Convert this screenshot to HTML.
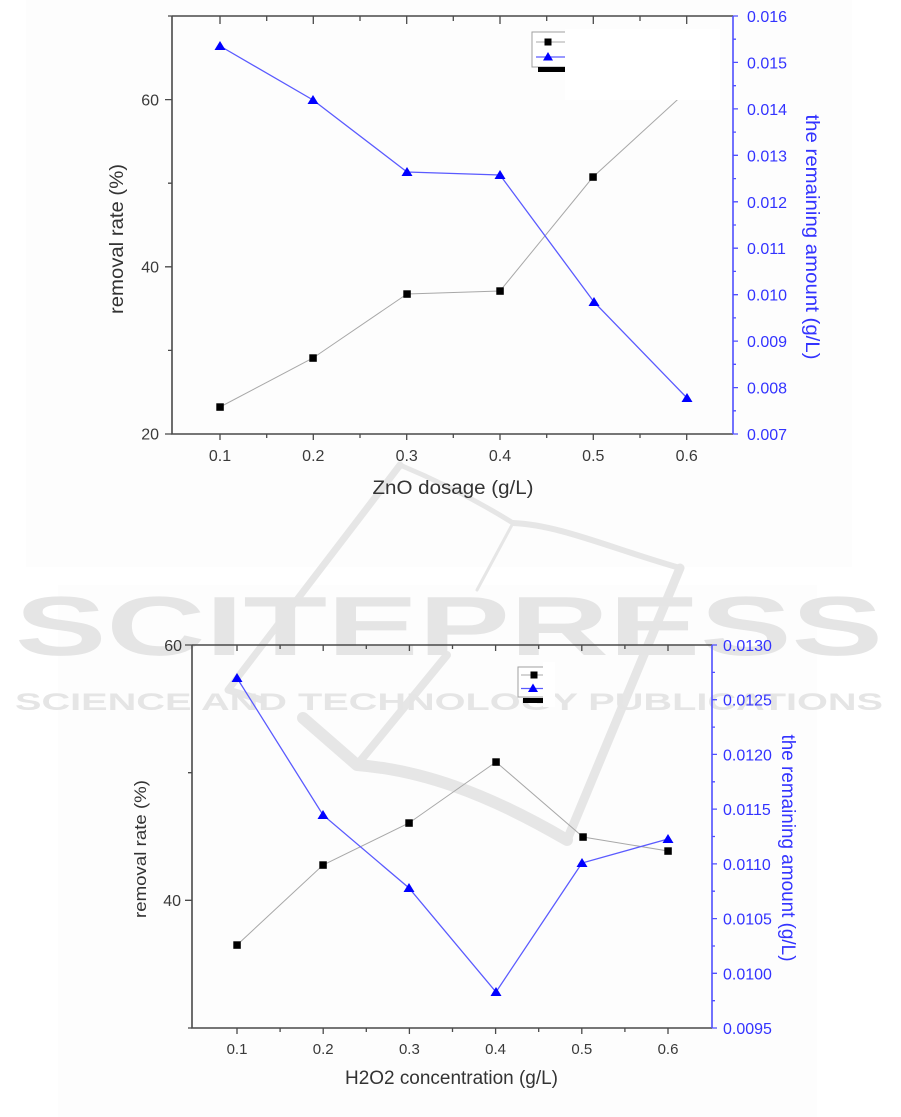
<!DOCTYPE html>
<html>
<head>
<meta charset="utf-8">
<style>
  html, body { margin: 0; padding: 0; background: #ffffff; }
  body { width: 901px; height: 1117px; overflow: hidden; }
  svg { display: block; }
  text { font-family: "Liberation Sans", Arial, sans-serif; }
</style>
</head>
<body>
<svg width="901" height="1117" viewBox="0 0 901 1117" xmlns="http://www.w3.org/2000/svg">
  <!-- page / image backgrounds -->
  <rect x="0" y="0" width="901" height="1117" fill="#ffffff"/>
  <rect x="26" y="0" width="826" height="567" fill="#fdfdfd"/>
  <rect x="58" y="585" width="759" height="532" fill="#fdfdfd"/>

  <!-- watermark logo strokes -->
  <g fill="none" stroke="#e6e6e6" stroke-linecap="round" stroke-linejoin="round">
    <path d="M400 465 L228 690 L262 700" stroke-width="7"/>
    <path d="M400 465 Q460 490 513 523" stroke-width="5"/>
    <path d="M513 523 C560 525 610 548 680 568" stroke-width="6"/>
    <path d="M680 568 L567 840" stroke-width="9"/>
    <path d="M513 523 L477 590" stroke-width="3"/>
    <path d="M447 655 L357 765" stroke-width="8"/>
    <path d="M303 718 L357 765 C420 770 485 792 567 840" stroke-width="12"/>
  </g>

  <!-- watermark text -->
  <text x="15" y="655" font-size="84" font-weight="bold" textLength="868" lengthAdjust="spacingAndGlyphs" fill="#e5e5e5">SCITEPRESS</text>
  <text x="15" y="710" font-size="24" font-weight="bold" textLength="868" lengthAdjust="spacingAndGlyphs" fill="#e5e5e5">SCIENCE AND TECHNOLOGY PUBLICATIONS</text>

  <!-- ===================== TOP CHART ===================== -->
  <polyline points="220,407 313,358 407,294 500,291 593,177 687,91" fill="none" stroke="#a8a8a8" stroke-width="1"/>
  <polyline points="220,46 313,100 407,172 500,175 594,302 687,398" fill="none" stroke="#5a5aff" stroke-width="1.3"/>
  <g fill="#000">
    <rect x="216.3" y="403.3" width="7.5" height="7.5"/>
    <rect x="309.3" y="354.3" width="7.5" height="7.5"/>
    <rect x="403.3" y="290.3" width="7.5" height="7.5"/>
    <rect x="496.3" y="287.3" width="7.5" height="7.5"/>
    <rect x="589.3" y="173.3" width="7.5" height="7.5"/>
  </g>
  <g fill="#0000ff">
    <path d="M220 41 L214.5 50 L225.5 50 Z"/>
    <path d="M313 95 L307.5 104 L318.5 104 Z"/>
    <path d="M407 167 L401.5 176 L412.5 176 Z"/>
    <path d="M500 170 L494.5 179 L505.5 179 Z"/>
    <path d="M594 297 L588.5 306 L599.5 306 Z"/>
    <path d="M687 393 L681.5 402 L692.5 402 Z"/>
  </g>
  <rect x="565" y="29" width="155" height="71" fill="#ffffff"/>
  <rect x="532" y="32" width="40" height="35" fill="#ffffff" stroke="#a0a0a0" stroke-width="1"/>
  <rect x="565" y="29" width="10" height="44" fill="#ffffff"/>
  <path d="M536 42 H565" stroke="#a8a8a8" stroke-width="1"/>
  <rect x="544.5" y="38.5" width="7" height="7" fill="#000"/>
  <path d="M536 57 H565" stroke="#5a5aff" stroke-width="1.2"/>
  <path d="M548 52 L543 60.5 L553 60.5 Z" fill="#0000ff"/>
  <rect x="538" y="67" width="27" height="5" fill="#000"/>

  <path d="M172 16 H733 M172 16 V434 H733" fill="none" stroke="#4a4a4a" stroke-width="1.6"/>
  <path d="M733 16 V434" stroke="#4f4fff" stroke-width="1.6"/>
  <path d="M220 16v8 M313.3 16v8 M406.7 16v8 M500 16v8 M593.3 16v8 M686.7 16v8 M266.7 16v5 M360 16v5 M453.3 16v5 M546.7 16v5 M640 16v5
           M220 434v6 M313.3 434v6 M406.7 434v6 M500 434v6 M593.3 434v6 M686.7 434v6 M266.7 434v4 M360 434v4 M453.3 434v4 M546.7 434v4 M640 434v4
           M172 434h-7 M172 266.8h-7 M172 99.6h-7 M172 350.4h-4 M172 183.2h-4 M172 16h-4" stroke="#4a4a4a" stroke-width="1.3" fill="none"/>
  <path d="M733 434h5 M733 387.6h5 M733 341.1h5 M733 294.7h5 M733 248.2h5 M733 201.8h5 M733 155.3h5 M733 108.9h5 M733 62.4h5 M733 16h5
           M733 410.8h3 M733 364.3h3 M733 317.9h3 M733 271.4h3 M733 225h3 M733 178.6h3 M733 132.1h3 M733 85.7h3 M733 39.2h3" stroke="#4f4fff" stroke-width="1.3" fill="none"/>
  <g font-size="16" fill="#3a3a3a" text-anchor="end">
    <text x="159" y="105.5">60</text>
    <text x="159" y="272.5">40</text>
    <text x="159" y="439.5">20</text>
  </g>
  <g font-size="16" fill="#3a3a3a" text-anchor="middle">
    <text x="220" y="461">0.1</text>
    <text x="313.3" y="461">0.2</text>
    <text x="406.7" y="461">0.3</text>
    <text x="500" y="461">0.4</text>
    <text x="593.3" y="461">0.5</text>
    <text x="686.7" y="461">0.6</text>
  </g>
  <g font-size="16" fill="#3333ff">
    <text x="747" y="22">0.016</text>
    <text x="747" y="68.4">0.015</text>
    <text x="747" y="114.9">0.014</text>
    <text x="747" y="161.3">0.013</text>
    <text x="747" y="207.8">0.012</text>
    <text x="747" y="254.2">0.011</text>
    <text x="747" y="300.7">0.010</text>
    <text x="747" y="347.1">0.009</text>
    <text x="747" y="393.6">0.008</text>
    <text x="747" y="440">0.007</text>
  </g>
  <text x="453" y="494" font-size="19" fill="#333" text-anchor="middle" textLength="161" lengthAdjust="spacingAndGlyphs">ZnO dosage (g/L)</text>
  <text transform="translate(123,239) rotate(-90)" font-size="19" fill="#333" text-anchor="middle" textLength="150" lengthAdjust="spacingAndGlyphs">removal rate (%)</text>
  <text transform="translate(806,237) rotate(90)" font-size="19" fill="#3333ff" text-anchor="middle" textLength="245" lengthAdjust="spacingAndGlyphs">the remaining amount (g/L)</text>

  <!-- ===================== BOTTOM CHART ===================== -->
  <polyline points="237,945 323,865 409,823 496,762 583,837 668,851" fill="none" stroke="#a8a8a8" stroke-width="1"/>
  <polyline points="237,678 323,815 409,888 496,992 582,863 668,839" fill="none" stroke="#5a5aff" stroke-width="1.3"/>
  <g fill="#000">
    <rect x="233.3" y="941.3" width="7.5" height="7.5"/>
    <rect x="319.3" y="861.3" width="7.5" height="7.5"/>
    <rect x="405.3" y="819.3" width="7.5" height="7.5"/>
    <rect x="492.3" y="758.3" width="7.5" height="7.5"/>
    <rect x="579.3" y="833.3" width="7.5" height="7.5"/>
    <rect x="664.3" y="847.3" width="7.5" height="7.5"/>
  </g>
  <g fill="#0000ff">
    <path d="M237 673 L231.5 682 L242.5 682 Z"/>
    <path d="M323 810 L317.5 819 L328.5 819 Z"/>
    <path d="M409 883 L403.5 892 L414.5 892 Z"/>
    <path d="M496 987 L490.5 996 L501.5 996 Z"/>
    <path d="M582 858 L576.5 867 L587.5 867 Z"/>
    <path d="M668 834 L662.5 843 L673.5 843 Z"/>
  </g>
  <rect x="518" y="667" width="30" height="30" fill="#ffffff" stroke="#a0a0a0" stroke-width="1"/>
  <rect x="543" y="662" width="12" height="45" fill="#ffffff"/>
  <path d="M521 675 H543" stroke="#a8a8a8" stroke-width="1"/>
  <rect x="530.5" y="671.5" width="7" height="7" fill="#000"/>
  <path d="M521 688.5 H543" stroke="#5a5aff" stroke-width="1.2"/>
  <path d="M533 683.5 L528 692 L538 692 Z" fill="#0000ff"/>
  <rect x="523" y="698" width="20" height="5" fill="#000"/>

  <path d="M192 645 H712 M192 645 V1028 H712" fill="none" stroke="#4a4a4a" stroke-width="1.6"/>
  <path d="M712 645 V1028" stroke="#4f4fff" stroke-width="1.6"/>
  <path d="M237 645v6 M323.2 645v6 M409.4 645v6 M495.6 645v6 M581.8 645v6 M668 645v6 M280.1 645v4 M366.3 645v4 M452.5 645v4 M538.7 645v4 M624.9 645v4
           M237 1028v6 M323.2 1028v6 M409.4 1028v6 M495.6 1028v6 M581.8 1028v6 M668 1028v6 M280.1 1028v4 M366.3 1028v4 M452.5 1028v4 M538.7 1028v4 M624.9 1028v4
           M192 645h-7 M192 900.3h-7 M192 772.7h-4 M192 1028h-4" stroke="#4a4a4a" stroke-width="1.3" fill="none"/>
  <path d="M712 645h5 M712 699.7h5 M712 754.4h5 M712 809.1h5 M712 863.9h5 M712 918.6h5 M712 973.3h5 M712 1028h5
           M712 672.4h3 M712 727.1h3 M712 781.8h3 M712 836.5h3 M712 891.2h3 M712 946h3 M712 1000.7h3" stroke="#4f4fff" stroke-width="1.3" fill="none"/>
  <g font-size="16" fill="#3a3a3a" text-anchor="end">
    <text x="182" y="651">60</text>
    <text x="181" y="906">40</text>
  </g>
  <g font-size="15" fill="#3a3a3a" text-anchor="middle">
    <text x="237" y="1054">0.1</text>
    <text x="323.2" y="1054">0.2</text>
    <text x="409.4" y="1054">0.3</text>
    <text x="495.6" y="1054">0.4</text>
    <text x="581.8" y="1054">0.5</text>
    <text x="668" y="1054">0.6</text>
  </g>
  <g font-size="16" fill="#3333ff">
    <text x="723" y="651">0.0130</text>
    <text x="723" y="705.7">0.0125</text>
    <text x="723" y="760.4">0.0120</text>
    <text x="723" y="815.1">0.0115</text>
    <text x="723" y="869.9">0.0110</text>
    <text x="723" y="924.6">0.0105</text>
    <text x="723" y="979.3">0.0100</text>
    <text x="723" y="1034">0.0095</text>
  </g>
  <text x="451.5" y="1084" font-size="19" fill="#333" text-anchor="middle" textLength="213" lengthAdjust="spacingAndGlyphs">H2O2 concentration (g/L)</text>
  <text transform="translate(146,849) rotate(-90)" font-size="17" fill="#333" text-anchor="middle" textLength="138" lengthAdjust="spacingAndGlyphs">removal rate (%)</text>
  <text transform="translate(782,848) rotate(90)" font-size="19" fill="#3333ff" text-anchor="middle" textLength="227" lengthAdjust="spacingAndGlyphs">the remaining amount (g/L)</text>
</svg>
</body>
</html>
